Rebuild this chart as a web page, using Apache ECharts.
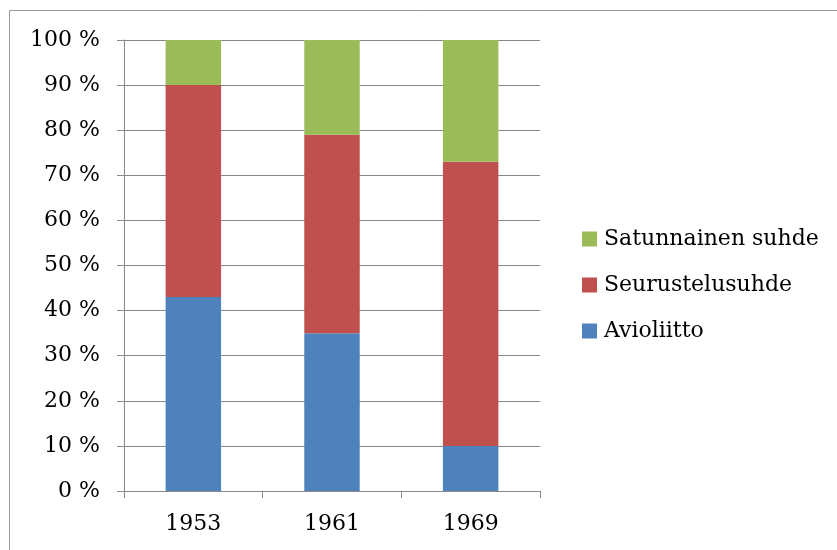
<!DOCTYPE html>
<html>
<head>
  <meta charset="utf-8">
  <script src="https://cdn.jsdelivr.net/npm/echarts@6/dist/echarts.min.js"></script>
  <style>
    html, body { margin: 0; padding: 0; background: #fff; }
    #chart { width: 837px; height: 550px; }
  </style>
</head>
<body>
  <div id="chart"></div>
  <script>
    // data (percent of total)
    var years = ['1953', '1961', '1969'];
    var avioliitto = [43, 35, 10];
    var seurustelu = [47, 44, 63];
    var satunnainen = [10, 21, 27];

    var font = '"DejaVu Serif", "Liberation Serif", serif';
    var gray = '#888888';

    var chart = echarts.init(document.getElementById('chart'));
    chart.setOption({
      animation: false,
      textStyle: { fontFamily: font },
      graphic: [{
        type: 'rect',
        shape: { x: 9.5, y: 10.5, width: 840, height: 560 },
        style: { fill: 'none', stroke: '#9a9a9a', lineWidth: 1 }
      }],
      grid: { left: 124, right: 297, top: 40, bottom: 59 },
      legend: {
        orient: 'vertical',
        left: 577,
        top: 223,
        itemWidth: 15,
        itemHeight: 15,
        itemGap: 24,
        icon: 'rect',
        data: ['Satunnainen suhde', 'Seurustelusuhde', 'Avioliitto'],
        textStyle: { fontFamily: font, fontSize: 22, color: '#000', padding: [0, 0, 0, 2] }
      },
      xAxis: {
        type: 'category',
        data: years,
        axisLine: { lineStyle: { color: gray } },
        axisTick: { show: true, length: 7, alignWithLabel: false, lineStyle: { color: gray } },
        axisLabel: { fontFamily: font, fontSize: 22, color: '#000', margin: 22 }
      },
      yAxis: {
        type: 'value',
        min: 0,
        max: 100,
        interval: 10,
        axisLine: { show: true, lineStyle: { color: gray } },
        axisTick: { show: true, length: 7, lineStyle: { color: gray } },
        splitLine: { lineStyle: { color: gray } },
        axisLabel: {
          fontFamily: font, fontSize: 22, color: '#000', margin: 24,
          formatter: function (v) { return v + ' %'; }
        }
      },
      series: [
        { name: 'Avioliitto', type: 'bar', stack: 'a', barWidth: '40%', data: avioliitto, itemStyle: { color: '#4F81BD' } },
        { name: 'Seurustelusuhde', type: 'bar', stack: 'a', data: seurustelu, itemStyle: { color: '#C0504D' } },
        { name: 'Satunnainen suhde', type: 'bar', stack: 'a', data: satunnainen, itemStyle: { color: '#9BBB59' } }
      ]
    });
  </script>
</body>
</html>
